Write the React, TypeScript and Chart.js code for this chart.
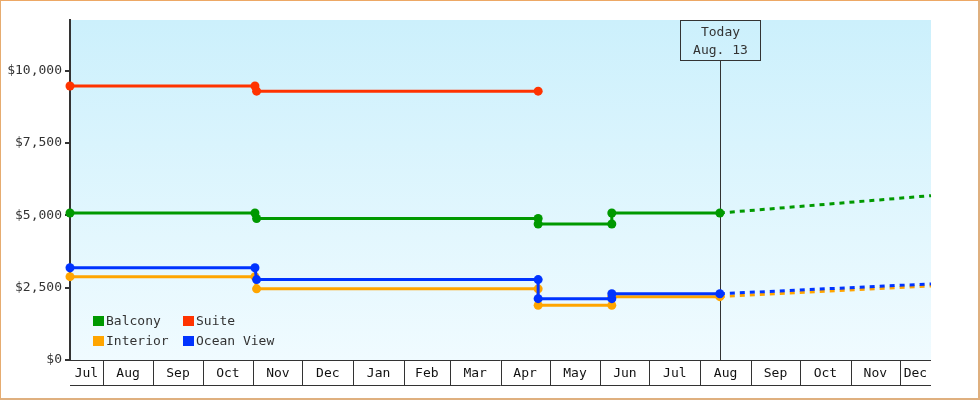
import { useEffect, useRef } from 'react'
import { Chart, registerables } from 'chart.js'

Chart.register(...registerables)

const FONT = "'DejaVu Sans Mono', monospace"
const INK = '#333333'

// dates of the price changes (step points)
const DATES = ['2013-07-12', '2013-11-02', '2013-11-03', '2014-04-24', '2014-04-24', '2014-06-08', '2014-06-08', '2014-08-13']
const BALCONY = [5080, 5080, 4890, 4890, 4700, 4700, 5080, 5080]
const INTERIOR = [2880, 2880, 2460, 2460, 1890, 1890, 2190, 2190]
const OCEAN_VIEW = [3190, 3190, 2780, 2780, 2120, 2120, 2290, 2290]
const SUITE_DATES = ['2013-07-12', '2013-11-02', '2013-11-03', '2014-04-24']
const SUITE = [9470, 9470, 9290, 9290]

// projection after today
const FC_DATES = ['2014-08-13', '2014-12-20']
const BALCONY_FC = [5080, 5680]
const INTERIOR_FC = [2190, 2560]
const OCEAN_VIEW_FC = [2290, 2630]

const X_START = '2013-07-12'
const X_END = '2014-12-20'
const TODAY = '2014-08-13'
const TODAY_LINES = ['Today', 'Aug. 13']

const MONTH_STARTS = ['2013-07-01', '2013-08-01', '2013-09-01', '2013-10-01', '2013-11-01', '2013-12-01',
  '2014-01-01', '2014-02-01', '2014-03-01', '2014-04-01', '2014-05-01', '2014-06-01',
  '2014-07-01', '2014-08-01', '2014-09-01', '2014-10-01', '2014-11-01', '2014-12-01', '2015-01-01']
const MONTH_LABELS = ['Jul', 'Aug', 'Sep', 'Oct', 'Nov', 'Dec', 'Jan', 'Feb', 'Mar', 'Apr', 'May', 'Jun',
  'Jul', 'Aug', 'Sep', 'Oct', 'Nov', 'Dec']

const Y_TICKS = [0, 2500, 5000, 7500, 10000]
const Y_MAX = 11750

const COLORS = { balcony: '#009900', suite: '#ff3300', interior: '#ffa500', ocean: '#0033ff' }
const LEGEND = [
  { label: 'Balcony', color: COLORS.balcony },
  { label: 'Suite', color: COLORS.suite },
  { label: 'Interior', color: COLORS.interior },
  { label: 'Ocean View', color: COLORS.ocean },
]

const day = (s: string) => Date.UTC(+s.slice(0, 4), +s.slice(5, 7) - 1, +s.slice(8, 10)) / 86400000
const pts = (dates: string[], vals: number[]) => vals.map((y, i) => ({ x: day(dates[i]), y }))

const bgPlugin = {
  id: 'bg',
  beforeDraw(chart: any) {
    const { ctx, chartArea: a } = chart
    const g = ctx.createLinearGradient(0, a.top, 0, a.bottom)
    g.addColorStop(0, '#ccf0fc')
    g.addColorStop(1, '#f0fbff')
    ctx.save()
    ctx.fillStyle = g
    ctx.fillRect(a.left, a.top, a.right - a.left, a.bottom - a.top)
    ctx.restore()
  },
}

const todayPlugin = {
  id: 'today',
  beforeDatasetsDraw(chart: any) {
    const { ctx, chartArea: a, scales } = chart
    const x = Math.round(scales.x.getPixelForValue(day(TODAY))) + 0.5
    const w = 80, h = 40
    ctx.save()
    ctx.strokeStyle = INK
    ctx.lineWidth = 1
    ctx.beginPath()
    ctx.moveTo(x, a.top + h)
    ctx.lineTo(x, a.bottom)
    ctx.stroke()
    ctx.strokeRect(x - w / 2, a.top + 0.5, w, h)
    ctx.fillStyle = INK
    ctx.font = `13px ${FONT}`
    ctx.textAlign = 'center'
    ctx.textBaseline = 'middle'
    ctx.fillText(TODAY_LINES[0], x, a.top + 12.5)
    ctx.fillText(TODAY_LINES[1], x, a.top + 30.5)
    ctx.restore()
  },
}

const monthPlugin = {
  id: 'months',
  afterDraw(chart: any) {
    const { ctx, chartArea: a, scales } = chart
    const sx = scales.x
    const top = a.bottom + 0.5, bot = a.bottom + 25.5
    ctx.save()
    ctx.strokeStyle = INK
    ctx.lineWidth = 1
    ctx.beginPath()
    ctx.moveTo(a.left, top); ctx.lineTo(a.right, top)
    ctx.moveTo(a.left, bot); ctx.lineTo(a.right, bot)
    ctx.stroke()
    ctx.fillStyle = '#111'
    ctx.font = `13px ${FONT}`
    ctx.textAlign = 'center'
    ctx.textBaseline = 'middle'
    MONTH_LABELS.forEach((lab, i) => {
      const p0 = Math.max(a.left, sx.getPixelForValue(day(MONTH_STARTS[i])))
      const p1 = Math.min(a.right, sx.getPixelForValue(day(MONTH_STARTS[i + 1])))
      if (p1 <= p0) return
      if (p0 > a.left + 1) {
        const px = Math.round(p0) + 0.5
        ctx.beginPath(); ctx.moveTo(px, top); ctx.lineTo(px, bot); ctx.stroke()
      }
      ctx.fillText(lab, (p0 + p1) / 2, a.bottom + 13.5)
    })
    ctx.restore()
  },
}

const legendPlugin = {
  id: 'cornerLegend',
  afterDatasetsDraw(chart: any) {
    const { ctx, chartArea: a } = chart
    ctx.save()
    ctx.font = `13px ${FONT}`
    ctx.textBaseline = 'middle'
    LEGEND.forEach((it, i) => {
      const bx = a.left + 23 + (i % 2) * 90
      const by = a.bottom - 44 + Math.floor(i / 2) * 20
      ctx.fillStyle = it.color
      ctx.fillRect(bx, by, 11, 10)
      ctx.fillStyle = INK
      ctx.fillText(it.label, bx + 13, by + 5.5)
    })
    ctx.restore()
  },
}

const line = (label: string, data: any[], color: string, order: number) => ({
  label, data, order,
  borderColor: color, backgroundColor: color,
  borderWidth: 3, pointRadius: 4.5, pointBorderWidth: 0, pointHoverRadius: 0,
  tension: 0, clip: false as any,
})

const dashed = (label: string, data: any[], color: string, order: number) => ({
  label, data, order,
  borderColor: color, borderWidth: 3, borderDash: [5, 5], pointRadius: 0,
  tension: 0, clip: false as any,
})

export default function App() {
  const ref = useRef<HTMLCanvasElement>(null)

  useEffect(() => {
    document.body.style.margin = '0'
    if (!ref.current) return
    const chart = new Chart(ref.current, {
      type: 'line',
      data: {
        datasets: [
          line('Ocean View', pts(DATES, OCEAN_VIEW), COLORS.ocean, 0),
          line('Interior', pts(DATES, INTERIOR), COLORS.interior, 1),
          line('Balcony', pts(DATES, BALCONY), COLORS.balcony, 2),
          line('Suite', pts(SUITE_DATES, SUITE), COLORS.suite, 3),
          dashed('Ocean View fc', pts(FC_DATES, OCEAN_VIEW_FC), COLORS.ocean, 4),
          dashed('Interior fc', pts(FC_DATES, INTERIOR_FC), COLORS.interior, 5),
          dashed('Balcony fc', pts(FC_DATES, BALCONY_FC), COLORS.balcony, 6),
        ] as any,
      },
      options: {
        animation: false,
        responsive: true,
        maintainAspectRatio: false,
        events: [],
        layout: { padding: { top: 20, right: 49, bottom: 40, left: 0 } },
        plugins: { legend: { display: false }, tooltip: { enabled: false } },
        scales: {
          x: { type: 'linear', display: false, min: day(X_START), max: day(X_END) },
          y: {
            min: 0, max: Y_MAX,
            afterFit: (s: any) => { s.width = 70 },
            afterBuildTicks: (s: any) => { s.ticks = Y_TICKS.map(v => ({ value: v })) },
            grid: { drawOnChartArea: false, tickLength: 5, color: INK, lineWidth: 2 },
            border: { display: true, color: INK, width: 2 },
            ticks: {
              padding: 3, color: INK, font: { family: FONT, size: 13 },
              callback: (v: any) => '$' + Number(v).toLocaleString('en-US'),
            },
          },
        },
      },
      plugins: [bgPlugin, todayPlugin, monthPlugin, legendPlugin],
    })
    return () => chart.destroy()
  }, [])

  return (
    <div style={{ position: 'relative', width: 980, height: 400, background: '#fff' }}>
      <canvas ref={ref} />
      <div style={{
        position: 'absolute', inset: 0, pointerEvents: 'none', boxSizing: 'border-box',
        borderTop: '1px solid #eda865', borderLeft: '1px solid #e6ac70',
        borderRight: '2px solid #dfb07f', borderBottom: '2px solid #dfb07f',
      }} />
    </div>
  )
}
